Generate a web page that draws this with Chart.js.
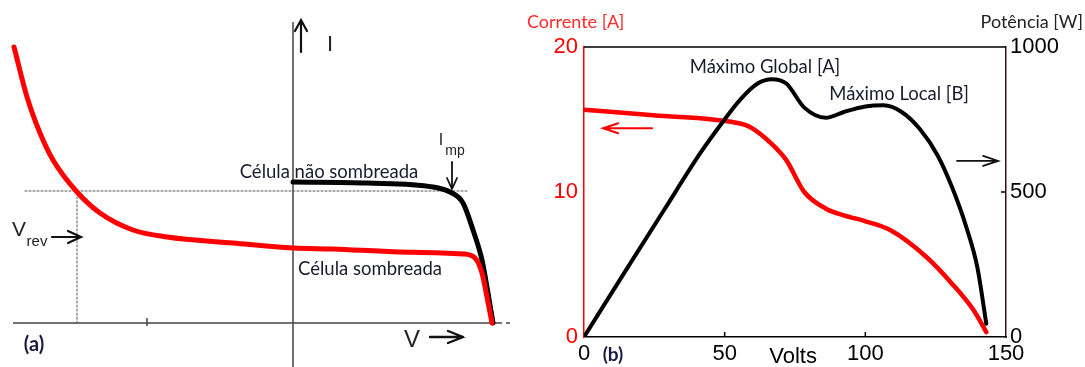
<!DOCTYPE html>
<html>
<head>
<meta charset="utf-8">
<script src="https://cdn.jsdelivr.net/npm/chart.js@4/dist/chart.umd.min.js"></script>
<style>
  body { margin: 0; background: #fff; }
  #wrap { position: relative; width: 1085px; height: 367px; overflow: hidden; }
  #panelA { position: absolute; left: 0; top: 0; }
  #panelB { position: absolute; left: 520px; top: 0; }
</style>
</head>
<body>
<div id="wrap">
  <canvas id="panelA" width="520" height="367"></canvas>
  <canvas id="panelB" width="565" height="367"></canvas>
</div>
<script>
'use strict';

// ---- panel (a): schematic I-V curves (arbitrary units) ----
var shadedV   = [-27.9, -26.6, -25.3, -24.0, -21.6, -19.3, -16.0, -12.6, -6.0, 0, 4.0, 10.7, 17.0, 18.2, 18.9, 19.4, 19.9];
var shadedI   = [27.6, 22.6, 19.0, 16.3, 13.1, 11.0, 9.3, 8.6, 8.0, 7.5, 7.4, 7.1, 6.9, 6.5, 5.0, 2.6, 0];
var unshadedV = [0, 7.4, 14.0, 15.7, 17.0, 18.0, 18.9, 19.5, 20.0];
var unshadedI = [14.1, 14.0, 13.6, 13.1, 12.0, 9.3, 6.3, 3.0, 0];
var impGuideV = [-26.8, 17.4];
var impGuideI = [13.2, 13.2];
var vrevGuideV = [-21.6, -21.6];
var vrevGuideI = [0, 13.2];

// ---- panel (b): current and power vs voltage ----
var currentV = [0, 24.6, 54, 59, 66.8, 71.9, 78.3, 86, 92.4, 100, 109, 121.8, 130.8, 138.5, 143];
var currentA = [15.68, 15.29, 14.78, 14.48, 13.3, 12.2, 10.0, 8.85, 8.39, 7.98, 7.36, 5.5, 3.68, 1.84, 0.34];
var powerV = [0, 15.6, 28.4, 41.2, 48.9, 55.3, 61.7, 66.8, 71.9, 78.3, 86, 92.4, 100, 106.5, 112.9, 119.3, 125.7, 130.8, 135.9, 139.8, 143];
var powerW = [0, 241, 437, 632, 736, 816, 874, 889, 874, 791, 756, 776, 795, 799, 776, 718, 626, 517, 379, 241, 46];

var textFont = 'Lato, "Open Sans", sans-serif';
var numFont = '"Liberation Sans", Arial, sans-serif';
var inkColor = '#1b1b2f';

function pts(xs, ys) {
    return xs.map(function (x, i) { return { x: x, y: ys[i] }; });
}

function arrow(ctx, x1, y1, x2, y2, head, spread, color, width) {
    var ang = Math.atan2(y2 - y1, x2 - x1);
    ctx.save();
    ctx.strokeStyle = color;
    ctx.lineWidth = width;
    ctx.lineCap = 'round';
    ctx.beginPath();
    ctx.moveTo(x1, y1);
    ctx.lineTo(x2, y2);
    var bx = x2 - head * Math.cos(ang), by = y2 - head * Math.sin(ang);
    var nx = -Math.sin(ang) * spread, ny = Math.cos(ang) * spread;
    ctx.moveTo(bx + nx, by + ny);
    ctx.lineTo(x2, y2);
    ctx.lineTo(bx - nx, by - ny);
    ctx.stroke();
    ctx.restore();
}

function label(ctx, txt, x, y, font, color, align) {
    ctx.save();
    ctx.font = font;
    ctx.fillStyle = color;
    ctx.textAlign = align || 'center';
    ctx.textBaseline = 'middle';
    ctx.fillText(txt, x, y);
    ctx.restore();
}

// axes, arrows and labels of the schematic
var schematicDecor = {
    id: 'schematicDecor',
    beforeDatasetsDraw: function (chart) {
        var ctx = chart.ctx, sx = chart.scales.x, sy = chart.scales.y;
        var px = function (v) { return sx.getPixelForValue(v); };
        var py = function (i) { return sy.getPixelForValue(i); };
        ctx.save();
        ctx.strokeStyle = '#444';
        ctx.lineWidth = 1.5;
        ctx.beginPath();
        ctx.moveTo(px(-28), py(0));
        ctx.lineTo(px(20.9), py(0));
        ctx.moveTo(px(21.3), py(0));
        ctx.lineTo(px(21.7), py(0));
        ctx.moveTo(px(0), py(30.1));
        ctx.lineTo(px(0), chart.height);
        ctx.moveTo(px(-14.6), py(0.5));
        ctx.lineTo(px(-14.6), py(-0.3));
        ctx.stroke();
        ctx.restore();
    },
    afterDatasetsDraw: function (chart) {
        var ctx = chart.ctx, sx = chart.scales.x, sy = chart.scales.y;
        var px = function (v) { return sx.getPixelForValue(v); };
        var py = function (i) { return sy.getPixelForValue(i); };
        arrow(ctx, px(0.8), py(27.1), px(0.8), py(30.3), 11, 6, '#111', 2.2);
        label(ctx, 'I', px(3.7), py(27.8), '22px ' + numFont, '#222');
        label(ctx, 'V', px(11.9), py(-1.7), '24px ' + numFont, '#222');
        arrow(ctx, px(13.7), py(-1.4), px(17.0), py(-1.4), 15, 6, '#111', 2.4);
        label(ctx, '(a)', px(-25.9), py(-2.2), 'bold 20px ' + textFont, '#1a1a40');
        label(ctx, 'V', px(-27.4), py(9.3), '21px ' + numFont, '#222');
        label(ctx, 'rev', px(-25.6), py(8.1), '15px ' + numFont, '#222');
        arrow(ctx, px(-24.1), py(8.6), px(-21.2), py(8.6), 13, 6, '#111', 2.2);
        label(ctx, 'I', px(14.8), py(18.2), '16px ' + numFont, '#222');
        label(ctx, 'mp', px(16.2), py(17.2), '14px ' + numFont, '#222');
        arrow(ctx, px(15.9), py(16.1), px(15.9), py(13.4), 11, 5, '#111', 1.8);
        label(ctx, 'Célula não sombreada', px(3.6), py(15.1), '18.5px ' + textFont, inkColor);
        label(ctx, 'Célula sombreada', px(7.7), py(5.4), '18.5px ' + textFont, inkColor);
    }
};

new Chart(document.getElementById('panelA'), {
    type: 'line',
    data: {
        datasets: [
            { data: pts(shadedV, shadedI), borderColor: '#ff0000', borderWidth: 5, order: 0 },
            { data: pts(unshadedV, unshadedI), borderColor: '#000000', borderWidth: 5, order: 1 },
            { data: pts(impGuideV, impGuideI), borderColor: '#555', borderWidth: 1, borderDash: [2, 2], tension: 0, order: 2 },
            { data: pts(vrevGuideV, vrevGuideI), borderColor: '#555', borderWidth: 1, borderDash: [2, 2], tension: 0, order: 2 }
        ]
    },
    options: {
        responsive: false,
        animation: false,
        layout: { padding: 0 },
        elements: { point: { radius: 0 }, line: { cubicInterpolationMode: 'monotone', borderCapStyle: 'round' } },
        plugins: { legend: { display: false }, tooltip: { enabled: false } },
        scales: {
            x: { type: 'linear', display: false, min: -29.3, max: 22.7 },
            y: { type: 'linear', display: false, min: -4.4, max: 32.3 }
        }
    },
    plugins: [schematicDecor]
});

// frame top, inward ticks, titles and annotations of panel (b)
var powerDecor = {
    id: 'powerDecor',
    afterDraw: function (chart) {
        var ctx = chart.ctx, a = chart.chartArea;
        var sx = chart.scales.x, sy = chart.scales.y, sp = chart.scales.y1;
        ctx.save();
        ctx.strokeStyle = '#000';
        ctx.lineWidth = 1.5;
        ctx.beginPath();
        ctx.moveTo(a.left, a.top);
        ctx.lineTo(a.right, a.top);
        [50, 100].forEach(function (v) {
            ctx.moveTo(sx.getPixelForValue(v), a.bottom);
            ctx.lineTo(sx.getPixelForValue(v), a.bottom - 5);
        });
        ctx.moveTo(a.right, sp.getPixelForValue(500));
        ctx.lineTo(a.right - 5, sp.getPixelForValue(500));
        ctx.stroke();
        ctx.restore();

        label(ctx, 'Corrente [A]', 7, 22, '18px ' + textFont, '#ff2a2a', 'left');
        label(ctx, 'Potência [W]', chart.width - 2, 22, '18px ' + textFont, '#222', 'right');
        label(ctx, 'Máximo Global [A]', sx.getPixelForValue(64.3), sp.getPixelForValue(931), '18.5px ' + textFont, inkColor);
        label(ctx, 'Máximo Local [B]', sx.getPixelForValue(112), sp.getPixelForValue(838), '18.5px ' + textFont, inkColor);
        arrow(ctx, sx.getPixelForValue(24.2), sy.getPixelForValue(14.4), sx.getPixelForValue(6.8), sy.getPixelForValue(14.4), 15, 5, '#ff0000', 2);
        arrow(ctx, sx.getPixelForValue(132.6), sp.getPixelForValue(607), sx.getPixelForValue(147.2), sp.getPixelForValue(607), 15, 5, '#111', 1.8);
        label(ctx, 'Volts', sx.getPixelForValue(74.3), a.bottom + 20, '22px ' + numFont, '#000');
        label(ctx, '(b)', sx.getPixelForValue(10.3), a.bottom + 18, 'bold 19px ' + textFont, '#1a1a40');
    }
};

var tickFont = { family: '"Liberation Sans", Arial, sans-serif', size: 22 };
var plainTick = function (v) { return String(v); };

new Chart(document.getElementById('panelB'), {
    type: 'line',
    data: {
        datasets: [
            { data: pts(currentV, currentA), yAxisID: 'y', borderColor: '#ff0000', borderWidth: 4.5, order: 1 },
            { data: pts(powerV, powerW), yAxisID: 'y1', borderColor: '#000000', borderWidth: 4, order: 0 }
        ]
    },
    options: {
        responsive: false,
        animation: false,
        layout: { padding: { top: 47 } },
        elements: { point: { radius: 0 }, line: { cubicInterpolationMode: 'monotone', borderCapStyle: 'round' } },
        plugins: { legend: { display: false }, tooltip: { enabled: false } },
        scales: {
            x: {
                type: 'linear', min: 0, max: 150,
                ticks: { stepSize: 50, color: '#000', font: tickFont, padding: 4, maxRotation: 0, callback: plainTick },
                grid: { display: false, drawTicks: false },
                border: { color: '#000', width: 1.5 },
                afterFit: function (s) { s.height = 30; }
            },
            y: {
                position: 'left', min: 0, max: 20,
                ticks: { stepSize: 10, color: '#ff0000', font: tickFont, padding: 6, callback: plainTick },
                grid: { display: false, drawTicks: false },
                border: { color: '#ff0000', width: 1.5 },
                afterFit: function (s) { s.width = 64; }
            },
            y1: {
                position: 'right', min: 0, max: 1000,
                ticks: { stepSize: 500, color: '#000', font: tickFont, padding: 4, callback: plainTick },
                grid: { display: false, drawTicks: false },
                border: { color: '#3a1010', width: 1.5 },
                afterFit: function (s) { s.width = 79; }
            }
        }
    },
    plugins: [powerDecor]
});
</script>
</body>
</html>
